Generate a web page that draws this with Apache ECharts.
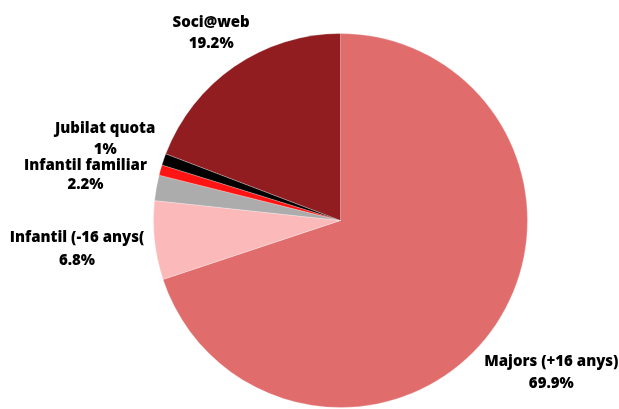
<!DOCTYPE html>
<html>
<head>
<meta charset="utf-8">
<script src="https://cdn.jsdelivr.net/npm/echarts@6/dist/echarts.min.js"></script>
<style>html,body{margin:0;padding:0;background:#fff}#c{width:619px;height:409px}</style>
</head>
<body>
<div id="c"></div>
<script>
// Data
const categories = ['Majors (+16 anys)', 'Infantil (-16 anys(', 'Infantil familiar', 'Altres', 'Jubilat quota', 'Soci@web'];
const values = [69.9, 6.8, 2.2, 0.9, 1, 19.2];
const valueLabels = ['69.9%', '6.8%', '2.2%', '', '1%', '19.2%'];

// Styles
const colors = ['#e06c6c', '#fcb9b9', '#acacac', '#ff1414', '#000000', '#921d20'];
const labelDist = [260, 265, 259, 0, 249, 228];
const labelLineH = [22, 23, 19, 20, 21, 21];
const showLabel = [true, true, true, false, true, true];

const CX = 340.5, CY = 220.5, R = 187;

const chart = echarts.init(document.getElementById('c'), null, {renderer: 'canvas'});
const data = categories.map((n, i) => ({
  name: n,
  value: values[i],
  itemStyle: {color: colors[i]},
  label: {
    show: showLabel[i],
    formatter: '{n|' + n + '}\n{v|' + valueLabels[i] + '}',
    rich: {
      n: {fontFamily: 'Open Sans', fontWeight: 800, fontSize: 15, color: '#000', lineHeight: labelLineH[i], align: 'center'},
      v: {fontFamily: 'Open Sans', fontWeight: 800, fontSize: 15, color: '#000', lineHeight: labelLineH[i], align: 'center'}
    }
  }
}));

chart.setOption({
  animation: false,
  series: [{
    type: 'pie',
    center: [CX, CY],
    radius: R,
    startAngle: 90,
    clockwise: true,
    avoidLabelOverlap: false,
    itemStyle: {borderColor: 'rgba(255,255,255,0.5)', borderWidth: 0.5},
    label: {position: 'outside', align: 'center'},
    labelLine: {show: true, length: 5, length2: 5, lineStyle: {opacity: 0, width: 0}},
    labelLayout: function (p) {
      const pts = p.labelLinePoints;
      if (!pts) return {};
      const dx = pts[0][0] - CX, dy = pts[0][1] - CY;
      const len = Math.sqrt(dx * dx + dy * dy) || 1;
      const d = labelDist[p.dataIndex];
      return {
        x: CX + dx / len * d,
        y: CY + dy / len * d,
        align: 'center',
        verticalAlign: 'middle'
      };
    },
    data: data
  }]
});
</script>
</body>
</html>
